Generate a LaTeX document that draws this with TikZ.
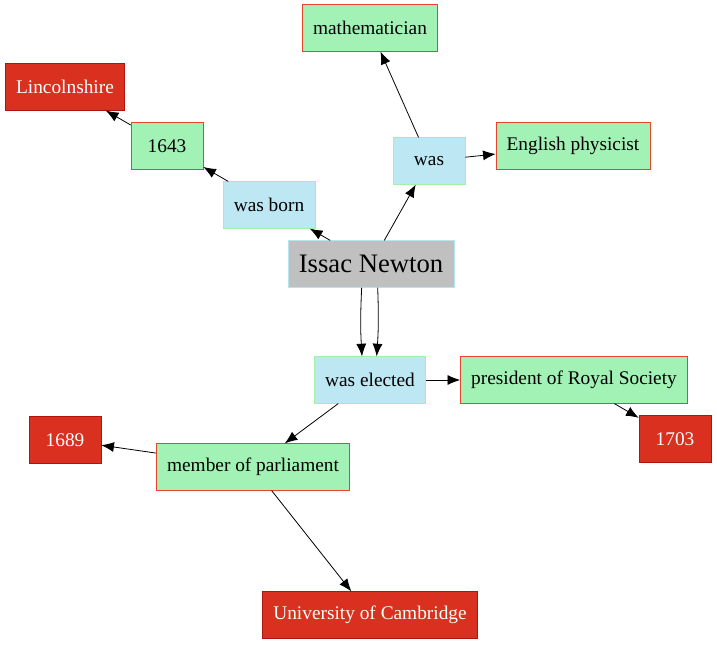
\documentclass[tikz,border=0pt]{standalone}
\usepackage{fontspec}
\setmainfont{Liberation Serif}
\usetikzlibrary{arrows.meta}

\definecolor{leafgreen}{HTML}{A1F2B4}
\definecolor{leafedge}{HTML}{E8432C}
\definecolor{verbblue}{HTML}{BDE7F3}
\definecolor{verbedge}{HTML}{A3F0A8}
\definecolor{rootgray}{HTML}{C0C0C0}
\definecolor{rootedge}{HTML}{B8E4F0}
\definecolor{endred}{HTML}{D9301F}
\definecolor{endedge}{HTML}{B0140C}

\tikzset{
    box/.style = {rectangle, minimum width = 54pt, minimum height = 35pt,
                  inner xsep = 8pt, font = \fontsize{14.5}{17}\selectfont},
    verb/.style = {box, fill = verbblue, draw = verbedge},
    fact/.style = {box, fill = leafgreen, draw = leafedge},
    last/.style = {box, fill = endred, draw = endedge, text = white},
    root/.style = {box, fill = rootgray, draw = rootedge, font = \fontsize{20}{24}\selectfont},
    link/.style = {-{Latex[length = 9.5pt, width = 7.5pt]}, semithick}
}

\begin{document}
\begin{tikzpicture}[x = 0.75pt, y = -0.75pt]
    \useasboundingbox (0, 0) rectangle (717, 645);

    % centre
    \node[root] (newton) at (371, 264) {Issac Newton};

    % upper half
    \node[verb] (wasborn) at (269, 205) {was born};
    \node[fact] (y1643)   at (167, 146) {1643};
    \node[last] (lincoln) at (65, 87)   {Lincolnshire};

    \node[verb] (was)       at (429, 161) {was};
    \node[fact] (math)      at (370, 28)  {mathematician};
    \node[fact] (physicist) at (573, 146) {English physicist};

    % lower half
    \node[verb] (elected)   at (370, 380) {was elected};
    \node[fact] (president) at (574, 380) {president of Royal Society};
    \node[last] (y1703)     at (675, 439) {1703};
    \node[fact] (member)    at (253, 467) {member of parliament};
    \node[last] (y1689)     at (65, 440)  {1689};
    \node[last] (cambridge) at (370, 615) {University of Cambridge};

    \draw[link] (newton) -- (wasborn);
    \draw[link] (wasborn) -- (y1643);
    \draw[link] (y1643) -- (lincoln);

    \draw[link] (newton) -- (was);
    \draw[link] (was) -- (math);
    \draw[link] (was) -- (physicist);

    \draw[link] ([xshift = -7pt] newton.south) to[bend right = 3] ([xshift = -6pt] elected.north);
    \draw[link] ([xshift = 5pt] newton.south) to[bend left = 3] ([xshift = 5pt] elected.north);

    \draw[link] (elected) -- (president);
    \draw[link] (president) -- (y1703);
    \draw[link] (elected) -- (member);
    \draw[link] (member) -- (y1689);
    \draw[link] (member) -- (cambridge);

\end{tikzpicture}
\end{document}
